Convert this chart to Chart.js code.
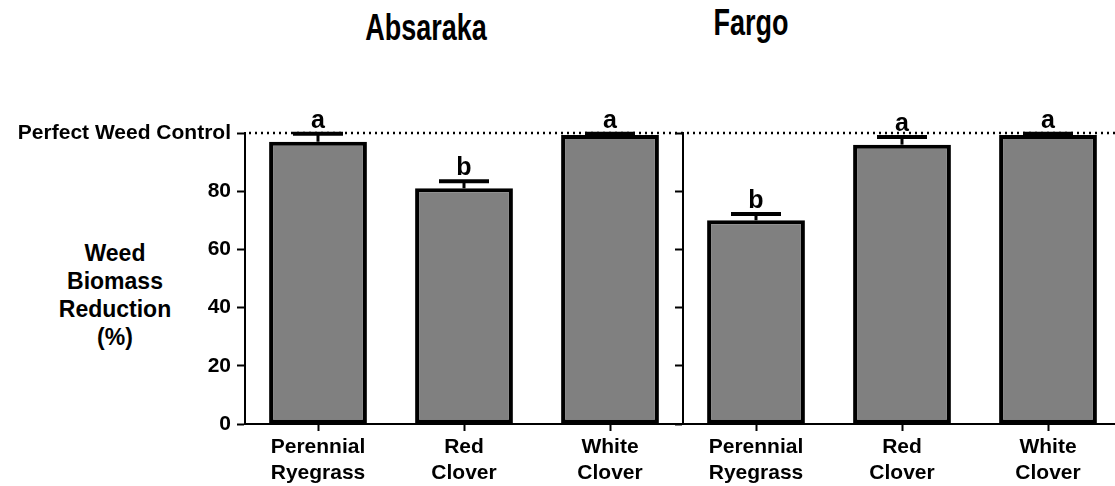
<!DOCTYPE html>
<html>
<head>
<meta charset="utf-8">
<script src="https://cdn.jsdelivr.net/npm/chart.js@4"></script>
<style>
  body { margin: 0; background: #fff; overflow: hidden; }
  #wrap { position: relative; width: 1115px; height: 486px; overflow: hidden; font-family: "Liberation Sans", Arial, sans-serif; }
  canvas { position: absolute; top: 0; }
  .site { position: absolute; font-weight: bold; font-size: 27px; transform: translate(-50%, -50%) scaleY(1.4); white-space: nowrap; }
  #ytitle { position: absolute; left: 45px; top: 239px; width: 140px; text-align: center; font-weight: bold; font-size: 23px; line-height: 28px; }
</style>
</head>
<body>
<div id="wrap">
  <div class="site" style="left:426px; top:28px;">Absaraka</div>
  <div class="site" style="left:751px; top:23px;">Fargo</div>
  <div id="ytitle">Weed<br>Biomass<br>Reduction<br>(%)</div>
  <canvas id="left" width="683" height="486" style="left:0px"></canvas>
  <canvas id="right" width="448" height="486" style="left:673px"></canvas>
</div>
<script>
const categories = [["Perennial", "Ryegrass"], ["Red", "Clover"], ["White", "Clover"]];
const yTickLabels = ["0", "20", "40", "60", "80", "Perfect Weed Control"];

const absarakaMeans = [97, 81, 99.3];
const absarakaErrors = [2.7, 2.4, 0.4];
const absarakaLetters = ["a", "b", "a"];

const fargoMeans = [70, 96, 99.3];
const fargoErrors = [2.2, 2.6, 0.4];
const fargoLetters = ["b", "a", "a"];

const perfectControl = 100;
const font = "'Liberation Sans', Arial, sans-serif";

// dotted line, error bars and letters, drawn on top of the bars
const extrasPlugin = {
  id: "extras",
  afterDatasetsDraw(chart, args, opts) {
    const ctx = chart.ctx;
    const y = chart.scales.y;
    const area = chart.chartArea;
    ctx.save();

    // perfect weed control line
    ctx.strokeStyle = "#000";
    ctx.lineWidth = 2.5;
    ctx.setLineDash([2, 4]);
    ctx.beginPath();
    ctx.moveTo(area.left + 4, y.getPixelForValue(perfectControl));
    ctx.lineTo(area.right, y.getPixelForValue(perfectControl));
    ctx.stroke();
    ctx.setLineDash([]);

    const meta = chart.getDatasetMeta(0);
    meta.data.forEach((bar, i) => {
      const top = y.getPixelForValue(opts.means[i]);
      const hi = y.getPixelForValue(opts.means[i] + opts.errors[i]);
      ctx.lineWidth = 3;
      ctx.beginPath();
      ctx.moveTo(bar.x, top);
      ctx.lineTo(bar.x, hi);
      ctx.stroke();
      ctx.lineWidth = 4;
      ctx.beginPath();
      ctx.moveTo(bar.x - 25, hi);
      ctx.lineTo(bar.x + 25, hi);
      ctx.stroke();

      ctx.fillStyle = "#000";
      ctx.font = "bold 25px " + font;
      ctx.textAlign = "center";
      ctx.textBaseline = "alphabetic";
      ctx.fillText(opts.letters[i], bar.x, hi - 6);
    });
    ctx.restore();
  }
};

function makeChart(id, means, errors, letters, showLabels, yWidth) {
  return new Chart(document.getElementById(id), {
    type: "bar",
    data: {
      labels: categories,
      datasets: [{
        data: means,
        backgroundColor: "#808080",
        borderColor: "#000",
        borderWidth: 4,
        borderSkipped: false,
        categoryPercentage: 1,
        barPercentage: 0.67
      }]
    },
    options: {
      responsive: false,
      animation: false,
      layout: { padding: { top: 133, left: 0, right: 0, bottom: 0 } },
      plugins: {
        legend: { display: false },
        tooltip: { enabled: false },
        extras: { means: means, errors: errors, letters: letters }
      },
      scales: {
        x: {
          grid: { display: true, drawOnChartArea: false, offset: false, tickLength: 7, tickWidth: 2, tickColor: "#000" },
          border: { display: true, color: "#000", width: 2 },
          ticks: { color: "#000", font: { family: font, size: 21, weight: "bold", lineHeight: 1.25 }, padding: 3, maxRotation: 0 },
          afterFit(scale) { scale.height = 62; }
        },
        y: {
          min: 0,
          max: 100,
          grid: { display: true, drawOnChartArea: false, tickLength: 8, tickWidth: 2, tickColor: "#000" },
          border: { display: true, color: "#000", width: 2 },
          ticks: {
            display: showLabels,
            stepSize: 20,
            color: "#000",
            padding: 6,
            font: { family: font, size: 21, weight: "bold" },
            callback: (value, index) => yTickLabels[index]
          },
          afterFit(scale) { scale.width = yWidth; }
        }
      }
    },
    plugins: [extrasPlugin]
  });
}

makeChart("left", absarakaMeans, absarakaErrors, absarakaLetters, true, 245);
makeChart("right", fargoMeans, fargoErrors, fargoLetters, false, 10);
</script>
</body>
</html>
